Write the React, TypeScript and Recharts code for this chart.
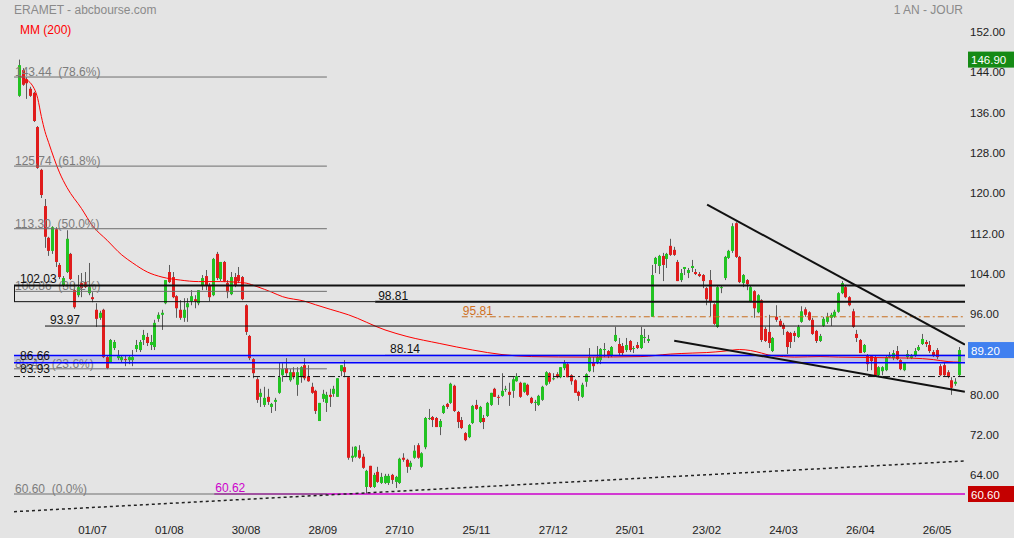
import React from "react";
import {
  Bar,
  ComposedChart,
  Line,
  ReferenceArea,
  ReferenceLine,
  XAxis,
  YAxis,
} from "recharts";

const FONT = '"Liberation Sans", Arial, sans-serif';
const BG = "#e4e4e4";
const UP = "#22c322";
const DOWN = "#e01c1c";
const WICK = "#5c5c5c";

// x axis is the trading-day index (0 = first session shown)
const TICK_IDX = [20, 41, 62, 83, 104, 125, 146, 167, 188, 209, 230, 251];
const TICK_LABELS = ["01/07", "01/08", "30/08", "28/09", "27/10", "25/11", "27/12", "25/01", "23/02", "24/03", "26/04", "26/05"];
// 88.00 sits under the 89.20 badge in the original, so it is not listed
const PRICE_TICKS = [64, 72, 80, 96, 104, 112, 120, 128, 136, 144, 152];
const X_DOMAIN: [number, number] = [-1.48, 258.64];
const Y_DOMAIN: [number, number] = [56.43, 158.74];

// [open, high, low, close]
const OHLC: [number, number, number, number][] = [
  // 0
  [139.7, 146.9, 139.5, 145.8], [144.8, 145.2, 141.7, 141.9], [143.0, 143.4, 139.1, 142.2], [141.1, 141.5, 139.5, 139.7], [140.3, 140.5, 134.5, 134.7],
  [133.5, 133.7, 125.2, 125.4], [125.0, 125.2, 119.4, 120.0], [117.8, 119.2, 109.5, 111.7], [111.5, 111.7, 107.9, 108.9], [108.9, 113.8, 108.3, 113.6],
  // 10
  [113.2, 113.6, 105.7, 106.7], [106.1, 106.5, 103.3, 103.7], [102.1, 103.9, 101.7, 103.5], [104.7, 113.0, 104.5, 111.3], [108.3, 108.5, 103.1, 103.3],
  [101.1, 102.5, 97.4, 97.7], [100.1, 104.1, 99.7, 101.7], [102.5, 104.5, 99.7, 101.5], [102.7, 104.7, 101.5, 101.7], [100.5, 106.5, 100.1, 101.7],
  // 20
  [99.7, 100.7, 98.7, 99.3], [97.2, 98.5, 93.8, 95.4], [95.6, 97.0, 95.2, 96.6], [97.2, 97.4, 87.6, 87.8], [87.8, 88.2, 85.4, 85.6],
  [86.8, 91.4, 86.8, 91.2], [89.6, 91.2, 89.2, 90.8], [87.6, 89.2, 87.2, 88.2], [87.2, 88.2, 86.8, 87.8], [87.4, 88.0, 86.0, 87.2],
  // 30
  [87.2, 88.0, 86.4, 87.8], [87.2, 89.2, 86.0, 87.8], [89.4, 91.2, 88.8, 90.2], [89.2, 91.2, 88.8, 90.8], [91.2, 93.2, 90.2, 92.2],
  [91.8, 92.6, 90.0, 90.6], [90.2, 92.2, 89.2, 90.8], [89.8, 95.2, 89.2, 94.6], [95.4, 96.7, 94.8, 96.2], [96.2, 97.2, 93.2, 96.6],
  // 40
  [98.5, 103.1, 98.3, 103.1], [104.7, 106.1, 102.5, 102.7], [103.7, 104.7, 99.5, 99.7], [99.9, 100.1, 95.6, 97.5], [97.2, 99.1, 95.2, 95.6],
  [95.6, 99.5, 94.8, 97.2], [97.7, 99.5, 94.8, 98.5], [98.9, 101.1, 98.1, 99.9], [99.3, 100.1, 97.5, 98.9], [98.5, 101.1, 98.1, 101.1],
  // 50
  [102.1, 104.1, 101.1, 103.5], [103.9, 105.1, 101.1, 102.1], [102.1, 102.5, 98.9, 99.7], [100.1, 107.5, 99.9, 107.3], [108.3, 108.7, 103.1, 103.5],
  [103.3, 106.7, 102.9, 106.7], [106.7, 106.9, 102.7, 102.9], [102.5, 103.1, 99.5, 100.7], [100.3, 104.7, 100.1, 103.7], [103.7, 104.5, 101.7, 102.1],
  // 60
  [104.1, 105.7, 102.5, 102.9], [103.7, 103.9, 99.1, 99.3], [98.1, 98.3, 92.2, 92.8], [92.0, 92.2, 87.2, 87.6], [87.4, 87.6, 83.6, 84.6],
  [83.4, 83.8, 78.7, 79.3], [79.9, 81.5, 77.9, 80.7], [78.3, 81.9, 77.9, 79.7], [79.9, 81.5, 78.3, 78.9], [77.9, 78.7, 76.7, 78.5],
  // 70
  [78.9, 79.7, 77.1, 79.3], [80.7, 86.8, 80.5, 83.8], [84.2, 86.6, 82.9, 85.4], [85.6, 87.6, 84.0, 84.6], [83.2, 85.4, 82.9, 84.8],
  [84.8, 85.8, 83.4, 83.8], [82.3, 85.8, 80.1, 84.8], [83.8, 86.0, 82.7, 85.8], [86.2, 87.6, 83.2, 83.6], [84.0, 86.2, 82.9, 83.0],
  // 80
  [81.9, 82.7, 80.5, 80.7], [81.1, 81.3, 76.5, 77.1], [75.1, 78.7, 75.1, 78.7], [79.5, 81.3, 78.9, 80.5], [78.7, 80.9, 76.9, 80.3],
  [80.3, 81.5, 77.9, 79.9], [80.5, 82.1, 79.9, 81.5], [79.9, 83.6, 79.9, 83.6], [85.0, 86.2, 84.0, 86.2], [85.8, 87.2, 83.8, 84.8],
  // 90
  [83.8, 84.0, 67.4, 67.8], [67.8, 70.0, 67.0, 68.2], [68.0, 70.1, 67.8, 70.0], [69.3, 70.3, 67.6, 67.8], [68.0, 68.6, 65.6, 65.8],
  [62.0, 65.4, 60.62, 65.2], [66.2, 66.2, 61.8, 62.0], [62.0, 64.8, 61.8, 64.4], [65.0, 66.0, 62.8, 63.0], [62.8, 64.8, 62.6, 64.0],
  // 100
  [62.8, 64.6, 62.6, 64.2], [62.8, 64.6, 62.4, 64.2], [64.4, 64.6, 62.6, 63.4], [63.0, 64.2, 61.8, 64.0], [62.8, 67.8, 62.6, 67.6],
  [67.8, 68.7, 67.0, 67.4], [67.4, 67.6, 64.8, 66.0], [66.0, 67.2, 65.4, 66.8], [67.8, 70.3, 67.6, 69.2], [70.3, 70.7, 67.6, 67.8],
  // 110
  [66.0, 68.9, 65.8, 68.7], [69.9, 75.9, 69.5, 75.7], [75.5, 77.5, 75.3, 75.7], [75.9, 76.1, 73.9, 75.3], [75.7, 75.9, 73.9, 73.9],
  [73.9, 75.5, 72.3, 75.1], [76.7, 78.3, 76.5, 78.1], [78.5, 78.7, 77.5, 77.9], [78.7, 82.7, 78.5, 82.5], [82.1, 82.3, 76.9, 77.1],
  // 120
  [76.9, 77.1, 73.7, 74.9], [75.3, 75.9, 73.5, 73.7], [72.7, 72.9, 71.1, 71.3], [71.9, 74.5, 71.7, 74.3], [74.7, 78.3, 74.5, 78.1],
  [78.3, 79.3, 77.3, 77.5], [74.9, 78.1, 74.7, 77.9], [75.7, 76.3, 73.5, 74.9], [76.1, 78.9, 75.9, 78.7], [78.3, 80.7, 78.1, 80.7],
  // 130
  [81.5, 81.7, 79.9, 79.9], [79.9, 80.3, 78.3, 79.7], [80.1, 84.6, 79.9, 81.1], [81.3, 82.1, 80.9, 81.5], [80.9, 82.7, 78.1, 80.3],
  [81.1, 83.8, 79.7, 83.4], [83.0, 84.6, 82.9, 84.0], [82.7, 82.9, 79.7, 79.9], [80.9, 82.7, 80.7, 82.7], [82.3, 82.5, 80.1, 80.3],
  // 140
  [79.7, 79.9, 78.5, 78.7], [78.7, 79.3, 77.1, 78.9], [78.3, 80.3, 78.1, 80.1], [79.3, 82.1, 79.1, 81.9], [82.3, 85.0, 82.1, 84.8],
  [84.6, 84.8, 82.5, 82.9], [83.4, 84.6, 83.2, 83.6], [84.4, 84.8, 83.6, 83.8], [83.8, 85.8, 83.6, 85.8], [85.6, 87.2, 85.2, 86.6],
  // 150
  [86.4, 86.6, 83.8, 83.8], [84.2, 84.4, 82.3, 83.0], [83.2, 83.4, 80.7, 80.7], [80.9, 81.1, 79.1, 80.1], [79.9, 82.7, 79.7, 82.3],
  [82.9, 84.6, 81.9, 84.4], [85.0, 89.6, 84.8, 87.8], [86.8, 87.8, 84.8, 86.0], [86.6, 90.0, 86.4, 87.8], [87.2, 89.6, 86.4, 89.4],
  // 160
  [89.2, 90.6, 87.8, 89.4], [89.0, 89.2, 87.6, 88.2], [88.2, 90.0, 87.8, 89.8], [91.0, 93.8, 90.8, 92.2], [90.4, 91.6, 88.2, 88.6],
  [90.0, 90.6, 88.2, 88.6], [89.2, 91.6, 88.8, 90.2], [91.0, 91.2, 88.8, 89.2], [89.4, 90.0, 88.6, 89.6], [90.2, 90.8, 89.4, 89.6],
  // 170
  [89.6, 93.8, 89.4, 92.2], [91.6, 93.4, 90.6, 91.8], [91.0, 92.2, 90.6, 91.4], [95.8, 106.1, 95.8, 104.1], [106.3, 107.7, 104.5, 107.5],
  [105.9, 108.1, 104.3, 107.9], [107.9, 108.5, 102.9, 106.1], [107.3, 108.5, 105.5, 108.3], [109.9, 111.3, 107.9, 108.1], [109.1, 109.7, 107.9, 108.1],
  // 180
  [106.7, 107.1, 102.9, 102.9], [103.1, 105.3, 102.7, 104.5], [105.3, 105.7, 104.1, 105.7], [104.5, 105.5, 103.5, 105.1], [105.5, 107.1, 104.7, 105.9],
  [104.7, 105.3, 104.1, 104.3], [104.3, 104.7, 103.7, 103.9], [104.1, 104.3, 101.5, 102.9], [101.5, 101.7, 98.1, 99.3], [103.1, 105.1, 95.9, 98.9],
  // 190
  [98.3, 98.5, 94.2, 94.4], [93.8, 101.9, 93.6, 101.7], [101.5, 102.1, 100.5, 101.7], [103.5, 107.9, 103.1, 107.7], [107.5, 109.1, 107.3, 108.9],
  [108.9, 114.4, 108.5, 113.8], [114.4, 114.6, 107.5, 107.7], [107.7, 107.9, 102.5, 102.7], [102.5, 104.3, 101.7, 104.1], [103.1, 103.3, 101.1, 102.3],
  // 200
  [98.9, 102.1, 98.7, 101.7], [100.9, 101.1, 95.6, 97.5], [96.7, 100.3, 96.5, 100.1], [99.1, 99.3, 90.8, 91.2], [93.4, 93.8, 90.8, 91.0],
  [92.8, 96.2, 89.6, 90.6], [89.0, 91.8, 88.8, 91.6], [95.8, 98.1, 94.8, 95.2], [95.0, 95.4, 93.8, 94.0], [94.2, 94.6, 92.2, 93.4],
  // 210
  [92.8, 93.0, 88.4, 89.8], [92.6, 92.8, 89.6, 90.8], [92.6, 93.0, 90.8, 92.0], [91.8, 94.2, 91.6, 93.8], [94.8, 97.9, 94.6, 96.9],
  [97.3, 97.7, 95.8, 96.2], [96.7, 96.9, 95.0, 95.2], [95.2, 95.6, 92.2, 92.4], [93.0, 93.2, 90.6, 91.0], [91.0, 92.4, 90.8, 92.0],
  // 220
  [94.0, 95.8, 93.8, 95.4], [94.8, 96.6, 94.4, 95.8], [95.6, 96.6, 94.0, 96.2], [95.8, 97.2, 95.6, 96.8], [96.8, 100.7, 96.6, 100.5],
  [100.5, 102.9, 100.3, 102.5], [101.7, 102.1, 99.5, 99.7], [99.7, 99.9, 97.9, 98.1], [96.9, 97.4, 93.6, 93.8], [92.4, 93.2, 90.8, 91.6],
  // 230
  [91.2, 91.4, 88.6, 88.6], [88.8, 90.4, 88.6, 90.2], [88.2, 88.4, 85.0, 86.4], [88.0, 88.2, 85.2, 87.0], [87.8, 88.0, 84.0, 84.2],
  [84.2, 86.0, 84.0, 85.8], [85.0, 86.0, 84.2, 85.8], [85.2, 88.0, 85.0, 87.8], [87.8, 88.8, 87.6, 88.0], [87.6, 89.2, 87.2, 88.6],
  // 240
  [89.0, 90.0, 87.2, 87.4], [87.2, 87.4, 85.2, 85.4], [85.2, 86.8, 85.0, 86.6], [87.8, 89.2, 87.4, 88.4], [87.6, 88.4, 87.4, 88.0],
  [88.0, 89.6, 87.8, 89.0], [89.2, 90.2, 89.0, 89.8], [90.4, 92.4, 90.2, 91.4], [90.8, 91.2, 89.8, 90.4], [90.2, 91.0, 88.6, 89.0],
  // 250
  [88.8, 89.2, 87.8, 88.0], [89.2, 89.6, 87.4, 87.8], [86.0, 86.4, 84.0, 84.2], [86.2, 86.8, 84.0, 84.2], [84.8, 85.2, 83.6, 84.0],
  [83.2, 83.8, 80.3, 81.7], [82.5, 83.6, 82.1, 82.9], [84.2, 89.8, 84.0, 89.2],
];

// MM (200) read at [index, value]
const MA200: [number, number][] = [
  [0, 143.6], [1, 143.3], [4, 141.2], [5, 139.2], [6, 135.6], [7, 132.6], [8, 130.4], [11, 124.4], [13, 121.5], [17, 117.3],
  [20, 113.9], [24, 111.0], [28, 108.1], [31, 106.5], [35, 104.7], [39, 103.7], [44, 103.1], [49, 102.8], [55, 102.8], [59, 102.7],
  [62, 102.5], [65, 101.8], [69, 100.7], [72, 99.8], [78, 98.9], [81, 98.2], [85, 97.3], [90, 96.2], [100, 93.2], [106, 91.9],
  [115, 90.5], [124, 89.2], [132, 88.3], [140, 87.9], [155, 87.8], [170, 87.9], [178, 88.4], [184, 88.6], [188, 88.7], [193, 89.0],
  [197, 89.3], [200, 89.1], [203, 88.6], [205, 88.2], [209, 87.9], [212, 87.8], [219, 87.9], [224, 87.8], [244, 87.6], [250, 87.3],
  [254, 86.9], [257, 86.8],
];

const FIBO = [
  { value: 143.44, text: "143.44  (78.6%)" },
  { value: 125.74, text: "125.74  (61.8%)" },
  { value: 113.3, text: "113.30  (50.0%)" },
  { value: 100.86, text: "100.86  (38.2%)" },
  { value: 85.47, text: "85.47  (23.6%)" },
  { value: 60.6, text: "60.60  (0.0%)" },
];
const FIBO_END = 84.1;

// trend lines: [index, price] end points
const RESISTANCE: [number, number][] = [[188.1, 118.08], [258.6, 90.3]];
const SUPPORT: [number, number][] = [[179.1, 91.06], [258.6, 80.93]];
const LONG_TREND: [number, number][] = [[-1.48, 57.09], [258.6, 67.16]];

const maByIdx = new Map(MA200.map(([i, v]) => [i, v]));
const data = OHLC.map(([o, h, l, c], i) => ({
  i,
  o,
  h,
  l,
  c,
  hl: [l, h],
  ma: maByIdx.has(i) ? maByIdx.get(i) : null,
}));

function Candle(props: any) {
  const { x, y, width, height, payload } = props;
  if (x == null || y == null || !payload) return null;
  const { o, h, l, c } = payload;
  const top = Math.min(y, y + height);
  const span = Math.abs(height);
  const k = h - l > 0 ? span / (h - l) : 0;
  const yO = top + (h - o) * k;
  const yC = top + (h - c) * k;
  const cx = Math.round(x + width / 2) + 0.5;
  const bTop = Math.min(yO, yC);
  const bH = Math.max(1, Math.abs(yC - yO));
  return (
    <g>
      <line x1={cx} x2={cx} y1={top} y2={top + span} stroke={WICK} strokeWidth={1} />
      <rect x={cx - 1.5} y={bTop} width={3} height={bH} fill={c >= o ? UP : DOWN} />
    </g>
  );
}

function PriceTick(props: any) {
  const { x, y, payload } = props;
  return (
    <text x={x} y={y + 2.3} fill="#222" fontSize={11.5} fontFamily={FONT}>
      {Number(payload.value).toFixed(2)}
    </text>
  );
}

function LevelLabel(props: any) {
  const { viewBox, text, color = "#111", dx = 6, dy = -2 } = props;
  if (!viewBox) return null;
  return (
    <text
      x={viewBox.x + dx}
      y={viewBox.y + dy}
      fill={color}
      fontSize={12}
      fontFamily={FONT}
      style={{ whiteSpace: "pre" }}
    >
      {text}
    </text>
  );
}

function Badge(props: any) {
  const { viewBox, text, bg } = props;
  if (!viewBox) return null;
  const x = viewBox.x + viewBox.width + 3;
  const y = viewBox.y;
  return (
    <g>
      <rect x={x} y={y - 8} width={46} height={16} fill={bg} />
      <text x={x + 3} y={y + 4.5} fill="#fff" fontSize={11.5} fontFamily={FONT}>
        {text}
      </text>
    </g>
  );
}

const seg = (x1: number, x2: number, v: number) => [
  { x: x1, y: v },
  { x: x2, y: v },
];

export default function App() {
  const xEnd = X_DOMAIN[1];
  const xStart = X_DOMAIN[0];
  return (
    <div style={{ position: "absolute", left: 0, top: 0, width: 1014, height: 538, background: BG }}>
      <ComposedChart
        width={1014}
        height={538}
        data={data}
        margin={{ top: 0, right: 0, bottom: 0, left: 14 }}
      >
        <XAxis
          dataKey="i"
          type="number"
          domain={X_DOMAIN}
          allowDataOverflow
          ticks={TICK_IDX}
          interval={0}
          tickFormatter={(v) => TICK_LABELS[TICK_IDX.indexOf(v)] ?? ""}
          tickLine={false}
          axisLine={false}
          tickSize={0}
          tickMargin={11}
          height={23}
          tick={{ fontSize: 11.5, fill: "#222", fontFamily: FONT }}
        />
        <YAxis
          orientation="right"
          type="number"
          domain={Y_DOMAIN}
          allowDataOverflow
          ticks={PRICE_TICKS}
          interval={0}
          tickLine={false}
          axisLine={false}
          tickSize={0}
          tickMargin={5}
          width={49}
          tick={<PriceTick />}
        />

        <ReferenceArea y1={86.66} y2={88.14} fill="#7078e0" fillOpacity={0.3} stroke="none" ifOverflow="hidden" />

        <Bar dataKey="hl" shape={<Candle />} barSize={3} isAnimationActive={false} />
        <Line
          type="monotone"
          dataKey="ma"
          stroke="#ff0000"
          strokeWidth={1}
          dot={false}
          activeDot={false}
          connectNulls
          isAnimationActive={false}
        />

        <ReferenceLine
          segment={seg(53.3, xEnd, 60.62)}
          stroke="#cc00cc"
          strokeWidth={1.5}
          ifOverflow="hidden"
          label={<LevelLabel text="60.62" color="#cc00cc" dx={1} />}
        />
        {FIBO.map((f) => (
          <ReferenceLine
            key={f.text}
            segment={seg(xStart, FIBO_END, f.value)}
            stroke="#6e6e6e"
            strokeWidth={1}
            ifOverflow="hidden"
            label={<LevelLabel text={f.text} color="#7c7c7c" dx={1} dy={-1} />}
          />
        ))}

        <ReferenceLine y={102.03} stroke="#111" strokeWidth={2} ifOverflow="hidden" label={<LevelLabel text="102.03" />} />
        <ReferenceLine segment={seg(xStart, 97.3, 98.81)} stroke="#111" strokeWidth={1} ifOverflow="hidden" />
        <ReferenceLine
          segment={[{ x: -1.35, y: 98.81 }, { x: -1.35, y: 102.03 }]}
          stroke="#111"
          strokeWidth={1}
          ifOverflow="hidden"
        />
        <ReferenceLine
          segment={seg(97.3, xEnd, 98.81)}
          stroke="#111"
          strokeWidth={2}
          ifOverflow="hidden"
          label={<LevelLabel text="98.81" dx={3} />}
        />
        <ReferenceLine
          segment={seg(121, xEnd, 95.81)}
          stroke="#c86e1e"
          strokeWidth={1}
          strokeDasharray="6 3 2 3"
          ifOverflow="hidden"
          label={<LevelLabel text="95.81" color="#d0701e" dx={1} />}
        />
        <ReferenceLine
          segment={seg(7, xEnd, 93.97)}
          stroke="#111"
          strokeWidth={1}
          ifOverflow="hidden"
          label={<LevelLabel text="93.97" dx={5} />}
        />
        <ReferenceLine
          segment={seg(100, xEnd, 88.14)}
          stroke="#111"
          strokeWidth={1}
          ifOverflow="hidden"
          label={<LevelLabel text="88.14" dx={5} dy={-2.5} />}
        />
        <ReferenceLine y={88.14} stroke="#0000ff" strokeWidth={1.5} ifOverflow="hidden" />
        <ReferenceLine
          y={86.66}
          stroke="#0000ff"
          strokeWidth={1.5}
          ifOverflow="hidden"
          label={<LevelLabel text="86.66" dy={-2.5} />}
        />
        <ReferenceLine
          y={83.93}
          stroke="#111"
          strokeWidth={1}
          strokeDasharray="7 3 2 3"
          ifOverflow="hidden"
          label={<LevelLabel text="83.93" dy={-3.5} />}
        />

        <ReferenceLine
          segment={RESISTANCE.map(([x, y]) => ({ x, y }))}
          stroke="#111"
          strokeWidth={2}
          ifOverflow="hidden"
        />
        <ReferenceLine
          segment={SUPPORT.map(([x, y]) => ({ x, y }))}
          stroke="#111"
          strokeWidth={2}
          ifOverflow="hidden"
        />
        <ReferenceLine
          segment={LONG_TREND.map(([x, y]) => ({ x, y }))}
          stroke="#222"
          strokeWidth={1.5}
          strokeDasharray="3 3"
          ifOverflow="hidden"
        />

        <ReferenceLine y={146.9} stroke="none" label={<Badge text="146.90" bg="#158a15" />} />
        <ReferenceLine y={89.2} stroke="none" label={<Badge text="89.20" bg="#4080f0" />} />
        <ReferenceLine y={60.6} stroke="none" label={<Badge text="60.60" bg="#c40000" />} />
      </ComposedChart>

      <svg
        width={1014}
        height={40}
        style={{ position: "absolute", left: 0, top: 0, pointerEvents: "none" }}
      >
        <text x={14} y={14} fill="#8a8a8a" fontSize={12} fontFamily={FONT}>
          ERAMET - abcbourse.com
        </text>
        <text x={963} y={14} fill="#8a8a8a" fontSize={12} fontFamily={FONT} textAnchor="end">
          1 AN - JOUR
        </text>
        <text x={20} y={34} fill="#ff0000" fontSize={12} fontFamily={FONT}>
          MM (200)
        </text>
      </svg>
    </div>
  );
}
